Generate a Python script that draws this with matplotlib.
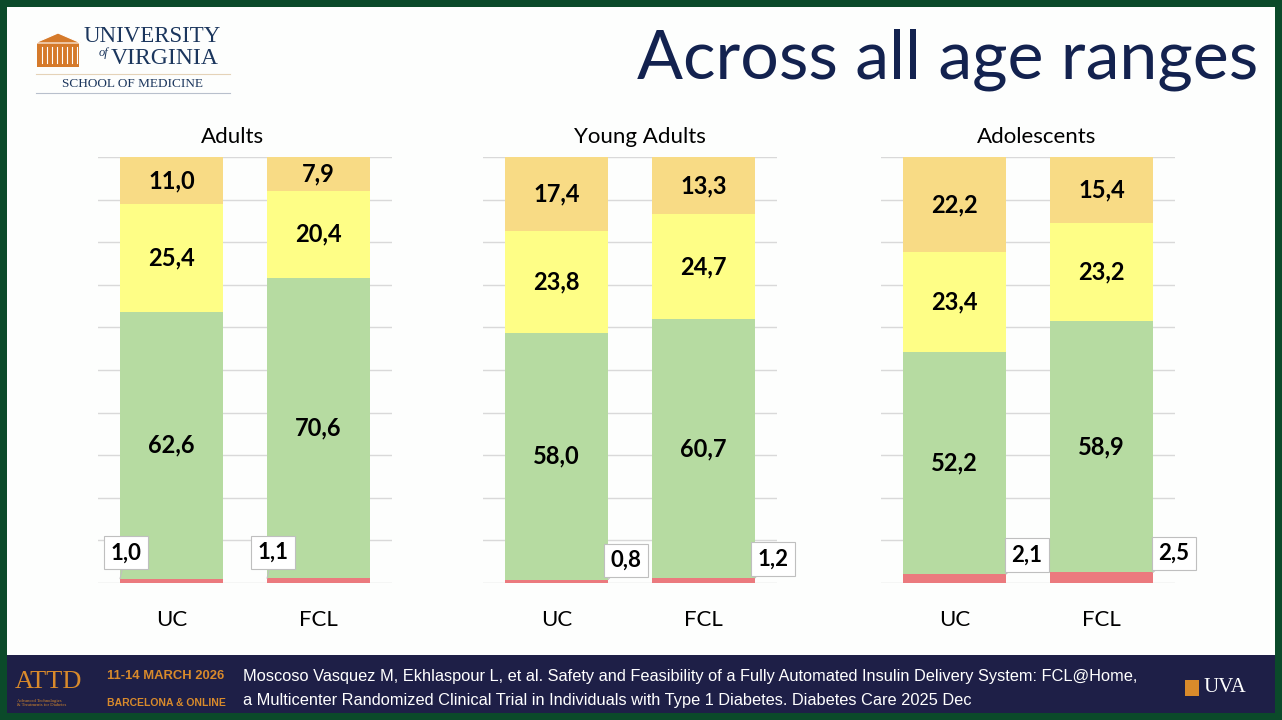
import matplotlib.pyplot as plt
import matplotlib.patches as mpatches
import numpy as np

# data (percent of time in range bands)
groups = ['Adults', 'Young Adults', 'Adolescents']
arms = ['UC', 'FCL']
below = [[1.0, 1.1], [0.8, 1.2], [2.1, 2.5]]
in_range = [[62.6, 70.6], [58.0, 60.7], [52.2, 58.9]]
above180 = [[25.4, 20.4], [23.8, 24.7], [23.4, 23.2]]
above250 = [[11.0, 7.9], [17.4, 13.3], [22.2, 15.4]]

col_red = '#EB7A7E'
col_green = '#B6DBA1'
col_yellow = '#FEFE86'
col_orange = '#F8DB85'
navy = '#13224F'
W, H = 1282, 720

fig = plt.figure(figsize=(W / 100, H / 100), dpi=100)
fig.patch.set_facecolor('#0B4A2A')

# background canvas in pixel coordinates
bg = fig.add_axes([0, 0, 1, 1])
bg.set_xlim(0, W)
bg.set_ylim(H, 0)
bg.axis('off')
bg.add_patch(mpatches.Rectangle((7, 7), W - 14, 648, fc='#FDFEFD', ec='none'))
bg.add_patch(mpatches.Rectangle((7, 655), W - 14, 58, fc='#1E1F47', ec='none'))

# title
bg.text(1258, 60, 'Across all age ranges', ha='right', va='center',
        fontsize=49, color=navy, family='Lato')

# logo (approximation)
orange = '#D57A2B'
bg.add_patch(mpatches.Rectangle((37, 43), 42, 24, fc=orange, ec='none'))
bg.add_patch(mpatches.Wedge((58, 42), 18, 0, 180, fc=orange, ec='none'))
bg.add_patch(mpatches.Polygon([[35, 43], [58, 33], [81, 43]], fc=orange, ec='white', lw=0.8))
for xc in np.arange(42, 78, 5):
    bg.plot([xc, xc], [47, 63], color='white', lw=0.8)
bg.text(84, 36, 'UNIVERSITY', fontsize=16.5, family='Liberation Serif', color='#1B365D', va='center')
bg.text(99, 53, 'of', fontsize=9, family='Liberation Serif', style='italic', color='#1B365D', va='center')
bg.text(111, 59, 'VIRGINIA', fontsize=17, family='Liberation Serif', color='#1B365D', va='center')
bg.plot([36, 230], [74, 74], color='#E5D3B8', lw=0.8)
bg.text(133, 84, 'SCHOOL OF MEDICINE', fontsize=9.5, family='Liberation Serif', color='#1B365D',
        ha='center', va='center')
bg.plot([36, 230], [93, 93], color='#B8C0CC', lw=0.8)

# footer
bg.text(15, 682, 'ATTD', fontsize=19, family='Liberation Serif', color='#D98A2B', va='center')
bg.text(17, 703, 'Advanced Technologies\n& Treatments for Diabetes', fontsize=3.3,
        family='Liberation Serif', color='#D98A2B', va='center', linespacing=1.1)
bg.text(107, 676, '11-14 MARCH 2026', fontsize=9.4, family='Liberation Sans',
        weight='bold', color='#D98A2B', va='center')
bg.text(107, 703, 'BARCELONA & ONLINE', fontsize=7.5, family='Liberation Sans',
        weight='bold', color='#D98A2B', va='center')
bg.text(243, 677, 'Moscoso Vasquez M, Ekhlaspour L, et al. Safety and Feasibility of a Fully '
        'Automated Insulin Delivery System: FCL@Home,', fontsize=11.8,
        family='Liberation Sans', color='white', va='center')
bg.text(243, 700, 'a Multicenter Randomized Clinical Trial in Individuals with Type 1 Diabetes. '
        'Diabetes Care 2025 Dec', fontsize=11.8, family='Liberation Sans',
        color='white', va='center')
bg.add_patch(mpatches.Rectangle((1185, 680), 14, 16, fc='#D98A2B', ec='none'))
bg.text(1203, 688, 'UVA', fontsize=15, family='Liberation Serif', color='white', va='center')

# panels
lefts = [98, 483, 881]
ax_w = 294
y_top, y_bot = 157, 583
x = np.array([0.5, 1.5])
label_off = [(6, 26), (18, 19), (21, 19)]
title_x = [0.459, 0.534, 0.531]

for i, g in enumerate(groups):
    ax = fig.add_axes([lefts[i] / W, 1 - y_bot / H, ax_w / W, (y_bot - y_top) / H])
    ax.set_xlim(0, 2)
    ax.set_ylim(0, 100)
    ax.set_facecolor('none')
    for s in ax.spines.values():
        s.set_visible(False)
    ax.set_yticks(np.arange(0, 101, 10))
    ax.yaxis.grid(True, color='#D9D9D9', lw=1)
    ax.set_axisbelow(True)
    ax.tick_params(left=False, bottom=False, labelleft=False)
    ax.set_xticks(x)
    ax.set_xticklabels(arms, fontsize=16, family='Lato')
    ax.tick_params(axis='x', pad=16)
    ax.set_title(g, fontsize=16, family='Lato', pad=10, x=title_x[i])

    b = np.array(below[i])
    r = np.array(in_range[i])
    a1 = np.array(above180[i])
    a2 = np.array(above250[i])
    bw = 0.70
    ax.bar(x, b, bw, color=col_red)
    ax.bar(x, r, bw, bottom=b, color=col_green)
    ax.bar(x, a1, bw, bottom=b + r, color=col_yellow)
    ax.bar(x, a2, bw, bottom=b + r + a1, color=col_orange)

    for j in range(2):
        for val, bot in [(r[j], b[j]), (a1[j], b[j] + r[j]), (a2[j], b[j] + r[j] + a1[j])]:
            ax.text(x[j], bot + val / 2, f'{val:.1f}'.replace('.', ','), ha='center',
                    va='center', fontsize=17, weight='bold', family='Lato')
        # callout for the small low-glucose segment
        edge = x[j] - bw / 2 if i == 0 else x[j] + bw / 2
        ax.annotate(f'{b[j]:.1f}'.replace('.', ','), xy=(edge, b[j]),
                    xytext=label_off[i], textcoords='offset pixels',
                    ha='center', va='center', fontsize=16, weight='bold', family='Lato',
                    bbox=dict(boxstyle='square,pad=0.28', fc='white', ec='#BFBFBF', lw=0.8),
                    arrowprops=dict(arrowstyle='-', color='#BFBFBF', lw=0.8,
                                    shrinkA=0, shrinkB=0))

fig.savefig('out.png', dpi=100, facecolor=fig.get_facecolor())
